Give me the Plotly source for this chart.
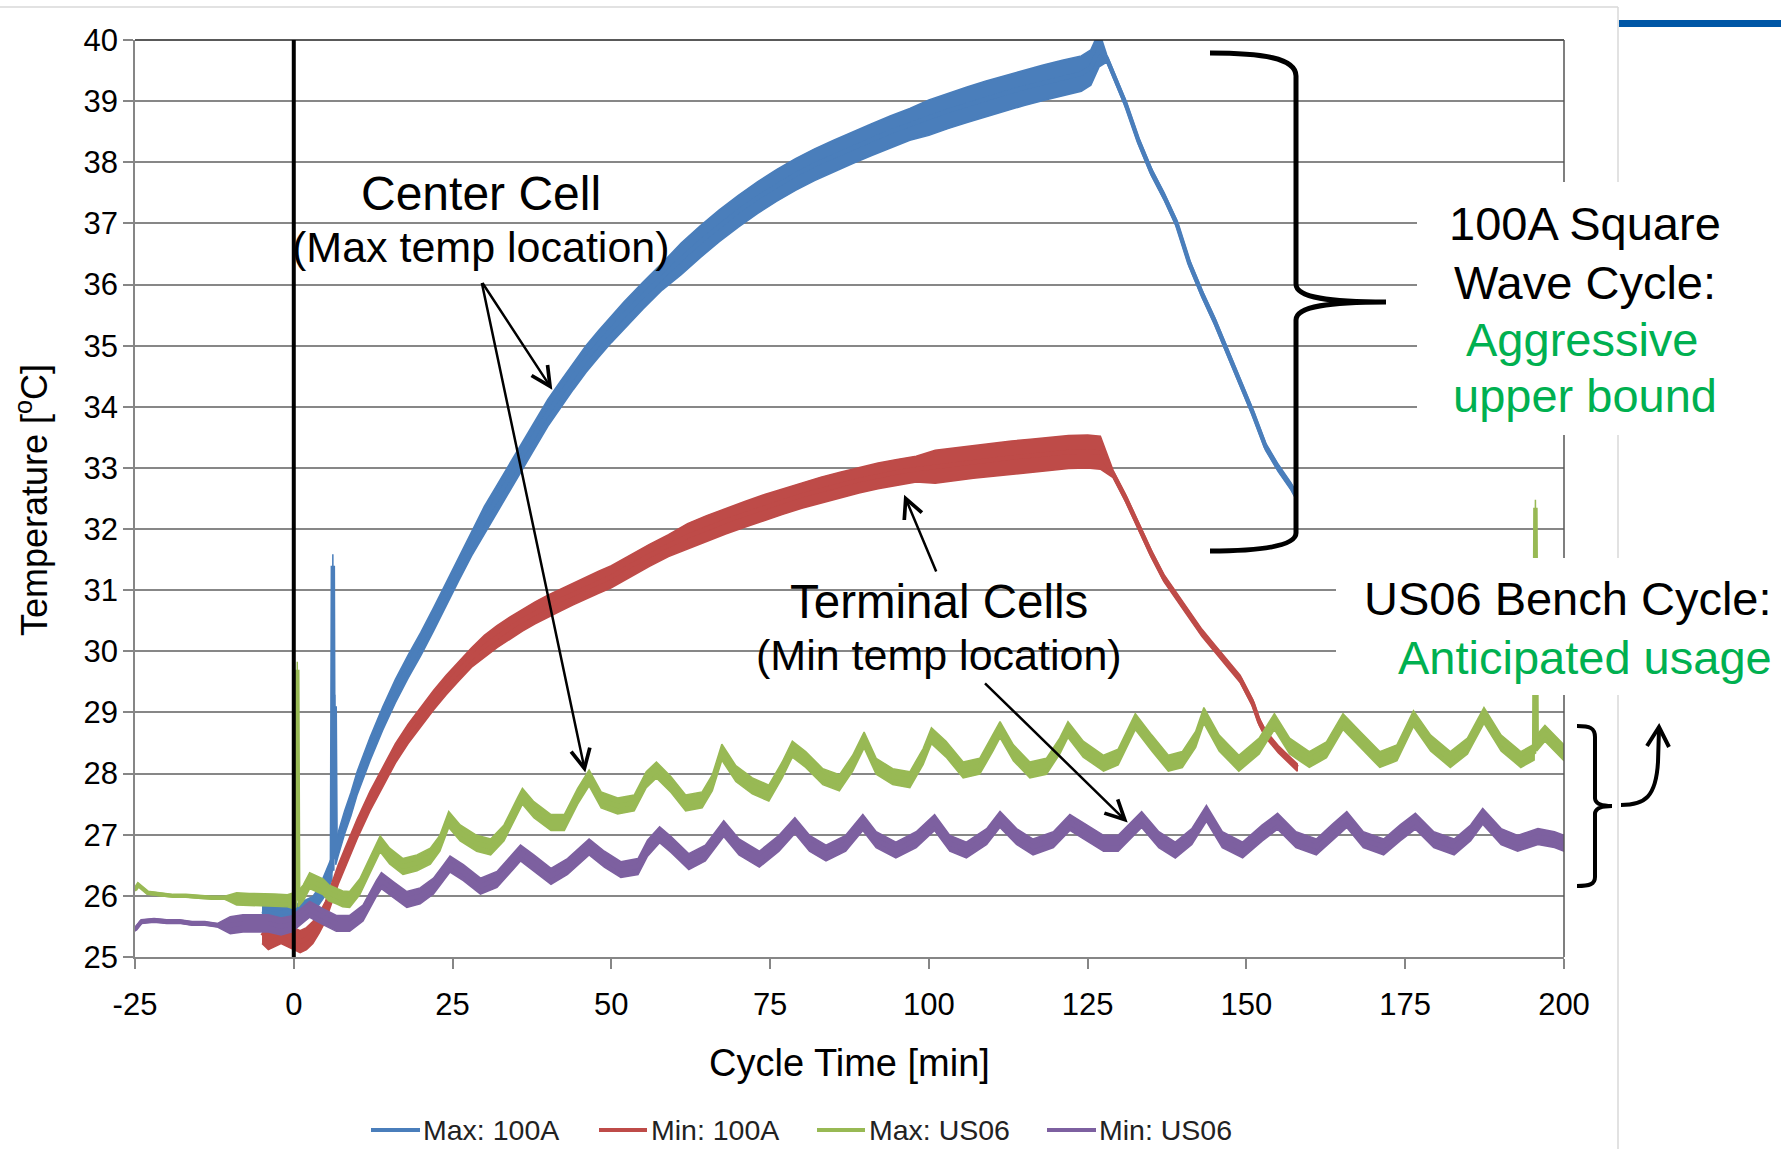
import plotly.graph_objects as go

# ---------------- data ----------------
t_max100 = [-5, -3, -1, 0, 1, 2, 3, 4, 5, 6.0, 6.15, 6.3, 6.45, 6.6, 6.75, 7, 8, 9, 10, 12, 14, 16, 18, 20,
            22, 24, 26, 28, 30, 32, 34, 36, 38, 40, 42, 44, 46, 48, 50, 52, 55, 58, 61, 64, 67, 70, 73, 76,
            79, 82, 85, 88, 91, 94, 97, 100, 103, 106, 109, 112, 115, 118, 121, 124, 125.5, 126.8, 128, 129,
            131, 133, 135, 137, 139, 141, 143, 145, 147, 149, 151, 153, 155, 157, 157.8]
v_max100 = [25.75, 25.7, 25.75, 25.7, 25.75, 25.8, 25.85, 26.0, 26.2, 26.45, 31.4, 26.6, 29.1, 26.7, 26.75,
            26.85, 27.2, 27.5, 27.85, 28.4, 28.9, 29.35, 29.75, 30.12, 30.52, 30.93, 31.35, 31.75, 32.15,
            32.5, 32.85, 33.2, 33.55, 33.9, 34.2, 34.5, 34.78, 35.03, 35.27, 35.5, 35.82, 36.13, 36.42,
            36.7, 36.96, 37.2, 37.42, 37.62, 37.8, 37.96, 38.1, 38.24, 38.37, 38.5, 38.62, 38.73, 38.84,
            38.94, 39.04, 39.13, 39.22, 39.3, 39.38, 39.45, 39.55, 39.85, 39.7, 39.45, 38.95, 38.35, 37.85,
            37.45, 37.0, 36.35, 35.85, 35.4, 34.9, 34.4, 33.9, 33.35, 33.0, 32.7, 32.55]
noise_max100_edges = [-6, 5, 30, 60, 100, 127.5, 200]
noise_max100 = [0.14, 0.19, 0.22, 0.26, 0.29, 0.06]

t_min100 = [-5, -4, -3, -2, -1, 0, 1, 2, 3, 4, 5, 6, 7, 8, 9, 10, 12, 14, 16, 18, 20, 22, 24, 26, 28, 30,
            32, 34, 36, 38, 40, 42, 44, 46, 48, 50, 53, 56, 59, 62, 65, 68, 71, 74, 77, 80, 83, 86, 89, 92,
            95, 98, 101, 104, 107, 110, 113, 116, 119, 122, 125, 127, 129, 131, 133, 135, 137, 139, 141,
            143, 145, 147, 149, 151, 152, 153, 155, 157, 158]
v_min100 = [25.4, 25.3, 25.35, 25.4, 25.35, 25.3, 25.25, 25.3, 25.4, 25.55, 25.75, 26.05, 26.35, 26.6,
            26.85, 27.1, 27.55, 27.95, 28.33, 28.65, 28.93, 29.2, 29.45, 29.68, 29.9, 30.08, 30.24, 30.38,
            30.51, 30.63, 30.74, 30.84, 30.94, 31.04, 31.13, 31.22, 31.4, 31.57, 31.73, 31.88, 32.01, 32.13,
            32.24, 32.35, 32.45, 32.55, 32.64, 32.72, 32.8, 32.87, 32.93, 32.98, 33.02, 33.06, 33.1, 33.13,
            33.17, 33.2, 33.23, 33.26, 33.27, 33.25, 32.9, 32.5, 32.05, 31.6, 31.2, 30.9, 30.6, 30.3,
            30.05, 29.8, 29.55, 29.15, 28.85, 28.65, 28.4, 28.2, 28.1]
noise_min100_edges = [-6, 4, 30, 60, 100, 127.5, 200]
noise_min100 = [0.18, 0.16, 0.18, 0.21, 0.27, 0.06]

t_maxus06 = [-25, -24.5, -23, -21, -19, -17, -15, -13, -11, -9, -7, -5, -3, -1, 0, 0.4, 0.55, 0.7, 1.5,
             2.5, 3.5, 4.6, 5.5, 6.7, 7.7, 8.8, 10.4, 12, 13.6, 15.1, 17.2, 19.4, 21.5, 23, 24.4, 26.2,
             28.8, 31, 33.1, 35.2, 36, 37.8, 40.5, 42.6, 44.7, 46.5, 48.4, 51, 53.6, 55.5, 57.1, 59.4,
             61.7, 64.3, 65.9, 67.4, 69.6, 72.2, 74.8, 76.9, 78.5, 80.6, 83.3, 85.9, 88, 89.8, 91.7, 94.3,
             97, 99.1, 100.4, 102.7, 105.4, 108, 110.1, 111.2, 113.3, 115.9, 118.5, 120.6, 121.9, 124.3,
             127.5, 129.8, 132.5, 135.1, 137.7, 139.9, 142, 143.3, 145.7, 148.8, 152, 154.4, 156.8, 159.9,
             162.6, 165.2, 167.9, 171, 173.7, 176.3, 179, 182.1, 184.8, 187.4, 190.1, 193.2, 195.3, 195.5,
             195.7, 197, 200]
v_maxus06 = [26.1, 26.18, 26.05, 26.02, 26.0, 26.0, 25.98, 25.97, 25.97, 25.95, 25.94, 25.94, 25.93, 25.92,
             25.92, 25.95, 29.7, 25.95, 26.05, 26.25, 26.2, 26.15, 26.05, 26.0, 25.95, 25.94, 26.15, 26.5,
             26.85, 26.65, 26.48, 26.54, 26.65, 26.86, 27.25, 27.03, 26.86, 26.8, 27.03, 27.47, 27.63,
             27.41, 27.2, 27.2, 27.63, 27.93, 27.57, 27.47, 27.52, 27.9, 28.06, 27.82, 27.52, 27.57, 27.85,
             28.35, 28.0, 27.8, 27.68, 28.06, 28.4, 28.23, 27.95, 27.85, 28.17, 28.55, 28.12, 27.95, 27.9,
             28.28, 28.62, 28.4, 28.06, 28.12, 28.5, 28.72, 28.34, 28.06, 28.12, 28.45, 28.72, 28.4, 28.17,
             28.27, 28.85, 28.5, 28.17, 28.23, 28.56, 28.95, 28.5, 28.17, 28.45, 28.85, 28.45, 28.23,
             28.39, 28.85, 28.56, 28.23, 28.34, 28.9, 28.5, 28.23, 28.45, 28.95, 28.5, 28.23, 28.35, 32.35,
             28.5, 28.66, 28.34]
noise_maxus06_edges = [-26, -10, 0, 201]
noise_maxus06 = [0.02, 0.1, 0.13]

t_minus06 = [-25, -24, -22, -20, -18, -16, -14, -12, -10, -8, -6, -4, -2, 0, 0.4, 2.5, 4.6, 6.7, 8.8, 10.9,
             13, 13.8, 15.7, 17.8, 19.9, 22, 23.6, 24.6, 26.7, 29.4, 32, 34.7, 35.7, 37.8, 40.5, 43.1, 45.2,
             46.5, 48.9, 51.5, 54.2, 55.7, 57.6, 59.4, 62.2, 64.8, 67.7, 70.1, 73.3, 76.4, 78.9, 81.2, 83.8,
             86.9, 89.6, 91.7, 94.8, 98, 100.9, 103.3, 105.9, 109.1, 111.2, 113.8, 116.4, 119.6, 122.2,
             124.8, 127.5, 129.8, 131.4, 133.5, 136.2, 138.8, 141.4, 143.7, 146.2, 149.4, 152.5, 154.9,
             157.8, 161, 163.6, 165.8, 168.4, 171.6, 174.2, 176.6, 179.5, 182.7, 185.3, 187.2, 190.1, 192.7,
             195.9, 198.5, 200]
v_minus06 = [25.45, 25.58, 25.6, 25.58, 25.58, 25.55, 25.55, 25.52, 25.52, 25.55, 25.55, 25.55, 25.5, 25.55,
             25.6, 25.78, 25.66, 25.55, 25.55, 25.72, 26.12, 26.25, 26.1, 25.94, 26.0, 26.16, 26.38, 26.52,
             26.38, 26.16, 26.27, 26.58, 26.7, 26.54, 26.32, 26.48, 26.68, 26.8, 26.6, 26.43, 26.48, 26.78,
             27.0, 26.84, 26.56, 26.7, 27.1, 26.8, 26.6, 26.86, 27.15, 26.86, 26.7, 26.86, 27.2, 26.92,
             26.75, 26.92, 27.2, 26.86, 26.75, 26.97, 27.25, 26.97, 26.8, 26.92, 27.2, 27.03, 26.86, 26.86,
             27.03, 27.25, 26.92, 26.75, 26.97, 27.35, 26.92, 26.75, 27.03, 27.22, 26.92, 26.8, 27.05,
             27.25, 26.92, 26.8, 27.03, 27.22, 26.92, 26.8, 27.03, 27.3, 26.97, 26.86, 26.97, 26.92, 26.86]
noise_minus06_edges = [-26, -10, 0, 201]
noise_minus06 = [0.03, 0.14, 0.13]

series_names = ["Max: 100A", "Min: 100A", "Max: US06", "Min: US06"]
x_ticks = [-25, 0, 25, 50, 75, 100, 125, 150, 175, 200]
x_tick_labels = ["-25", "0", "25", "50", "75", "100", "125", "150", "175", "200"]
y_ticks = list(range(25, 41))

# ---------------- helpers ----------------
W, H = 1781, 1149
ML, MR, MT, MB = 135, 217, 40, 192
PW, PH = W - ML - MR, H - MT - MB
FONT = "Liberation Sans, Arial, sans-serif"


def px(x):
    return (x - ML) / PW


def py(y):
    return (H - MB - y) / PH


def path(d_pixels):
    """Convert a path given in page pixels ('x,y' pairs) into paper coordinates."""
    out = []
    for tok in d_pixels.split():
        if tok[0].isalpha():
            out.append(tok[0])
            tok = tok[1:]
            if not tok:
                continue
        x, y = tok.split(",")
        out.append(f"{px(float(x)):.5f},{py(float(y)):.5f}")
    return " ".join(out)


def halfwidths(t, edges, widths):
    res = []
    for v in t:
        w = widths[-1]
        for i in range(len(widths)):
            if v < edges[i + 1]:
                w = widths[i]
                break
        res.append(w)
    return res


colors = ["#4A7EBB", "#BE4B48", "#98B954", "#7D60A0"]
data = [
    (t_max100, v_max100, noise_max100_edges, noise_max100),
    (t_min100, v_min100, noise_min100_edges, noise_min100),
    (t_maxus06, v_maxus06, noise_maxus06_edges, noise_maxus06),
    (t_minus06, v_minus06, noise_minus06_edges, noise_minus06),
]

fig = go.Figure()
for (t, v, ed, wd), name, c in zip(data, series_names, colors):
    n = halfwidths(t, ed, wd)
    hi = [a + b for a, b in zip(v, n)]
    lo = [a - b for a, b in zip(v, n)]
    fig.add_trace(go.Scatter(x=list(t) + list(t)[::-1], y=hi + lo[::-1], fill="toself", fillcolor=c,
                             mode="lines", line=dict(width=1.5, color=c), hoverinfo="skip",
                             showlegend=False))
    fig.add_trace(go.Scatter(x=t, y=v, mode="lines", name=name, showlegend=False,
                             line=dict(color=c, width=4.5)))

shapes = []
# slide decorations
shapes.append(dict(type="line", xref="paper", yref="paper", x0=px(0), x1=px(1618), y0=py(7), y1=py(7),
                   line=dict(color="#D9D9D9", width=1.5)))
shapes.append(dict(type="line", xref="paper", yref="paper", x0=px(1618), x1=px(1618), y0=py(7), y1=py(1149),
                   line=dict(color="#D9D9D9", width=1.5)))
shapes.append(dict(type="rect", xref="paper", yref="paper", x0=px(1619), x1=px(1781), y0=py(20), y1=py(27),
                   fillcolor="#0057A6", line=dict(width=0)))
# plot frame (top / right)
shapes.append(dict(type="line", xref="paper", yref="paper", x0=0, x1=1, y0=1, y1=1,
                   line=dict(color="#222222", width=1.5), layer="above"))
shapes.append(dict(type="line", xref="paper", yref="paper", x0=1, x1=1, y0=0, y1=1,
                   line=dict(color="#555555", width=1.5), layer="above"))
# black line at cycle start
shapes.append(dict(type="line", xref="x", yref="y", x0=0, x1=0, y0=25, y1=40.08,
                   line=dict(color="black", width=4), layer="above"))
# white text boxes
shapes.append(dict(type="rect", xref="paper", yref="paper", x0=px(1417), x1=px(1781), y0=py(435), y1=py(182),
                   fillcolor="white", line=dict(width=0), layer="above"))
shapes.append(dict(type="rect", xref="paper", yref="paper", x0=px(1336), x1=px(1781), y0=py(695), y1=py(558),
                   fillcolor="white", line=dict(width=0), layer="above"))
# big brace
shapes.append(dict(type="path", xref="paper", yref="paper", layer="above",
                   path=path("M1210,53 C1262,53 1296,58 1296,76 L1296,284 C1296,298 1330,302 1386,302 "
                             "C1330,302 1296,306 1296,320 L1296,533 C1296,546 1262,551 1210,551"),
                   line=dict(color="black", width=5)))
# small brace
shapes.append(dict(type="path", xref="paper", yref="paper", layer="above",
                   path=path("M1577,726 C1590,726 1595,728 1595,737 L1595,798 C1595,803 1600,806 1612,806 "
                             "C1600,806 1595,809 1595,814 L1595,877 C1595,884 1590,886 1577,886"),
                   line=dict(color="black", width=4)))
# curved arrow
shapes.append(dict(type="path", xref="paper", yref="paper", layer="above",
                   path=path("M1621,805 C1645,805 1656,797 1658,762 L1659,729"),
                   line=dict(color="black", width=4)))
shapes.append(dict(type="path", xref="paper", yref="paper", layer="above",
                   path=path("M1647,746 L1659,727 L1669,747"),
                   line=dict(color="black", width=4)))

# legend (drawn manually so it sits exactly like the reference)
legend_sym_x = [(371, 420), (599, 647), (817, 865), (1047, 1096)]
legend_txt_x = [423, 651, 869, 1099]
LEG_Y = 1130
for (x0, x1), c in zip(legend_sym_x, colors):
    shapes.append(dict(type="line", xref="paper", yref="paper", x0=px(x0), x1=px(x1), y0=py(LEG_Y),
                       y1=py(LEG_Y), line=dict(color=c, width=4)))

annotations = []


def label(text, x, y, size, color="black", xanchor="center"):
    annotations.append(dict(text=text, xref="paper", yref="paper", x=px(x), y=py(y), xanchor=xanchor,
                            yanchor="middle", showarrow=False, borderpad=0, borderwidth=0,
                            font=dict(size=size, color=color, family=FONT)))


for name, xt in zip(series_names, legend_txt_x):
    label(name, xt, LEG_Y, 28.5, "#222222", "left")

GREEN = "#00B050"
label("Center Cell", 481, 194, 48)
label("(Max temp location)", 481, 247, 43)
label("Terminal Cells", 939, 601, 47.5)
label("(Min temp location)", 939, 655, 43)
label("100A Square", 1585, 224, 47)
label("Wave Cycle:", 1585, 282, 47)
label("Aggressive", 1583, 339, 47, GREEN)
label("upper bound", 1585, 395, 47, GREEN)
label("US06 Bench Cycle:", 1568, 599, 47)
label("Anticipated usage", 1585, 657, 47, GREEN)
# axis titles
annotations.append(dict(text="Cycle Time [min]", xref="paper", yref="paper", x=px(849.5), y=py(1063),
                        xanchor="center", yanchor="middle", showarrow=False, font=dict(size=38, family=FONT)))
annotations.append(dict(text="Temperature [<sup>o</sup>C]", xref="paper", yref="paper", x=px(32), y=py(500),
                        xanchor="center", yanchor="middle", textangle=-90, showarrow=False,
                        font=dict(size=36, family=FONT)))

# pointer arrows (tail -> head in data coordinates)
arrows = [((29.56, 36.05), (40.7, 34.28)), ((29.56, 36.05), (45.9, 28.02)),
          ((101.25, 31.28), (96.1, 32.56)), ((108.6, 29.5), (131.3, 27.2))]
for (tx, ty), (hx, hy) in arrows:
    annotations.append(dict(x=hx, y=hy, ax=tx, ay=ty, xref="x", yref="y", axref="x", ayref="y", text="",
                            showarrow=True, arrowhead=5, arrowsize=1.5, arrowwidth=2.5, arrowcolor="black",
                            standoff=0, startstandoff=0))

fig.update_layout(
    width=W, height=H, autosize=False,
    margin=dict(l=ML, r=MR, t=MT, b=MB, pad=0),
    paper_bgcolor="white", plot_bgcolor="white",
    font=dict(family=FONT, color="black"),
    xaxis=dict(range=[-25, 200], tickvals=x_ticks, ticktext=x_tick_labels, ticks="outside", ticklen=10,
               tickcolor="#868686", tickwidth=1.5, showline=True, linecolor="#868686", linewidth=1.5,
               showgrid=False, zeroline=False, automargin=False,
               tickfont=dict(size=31, family=FONT, color="black"), ticklabelstandoff=9),
    yaxis=dict(range=[25, 40], tickvals=y_ticks, ticks="outside", ticklen=10, tickcolor="#868686",
               tickwidth=1.5, showline=True, linecolor="#868686", linewidth=1.5, showgrid=True,
               gridcolor="#878787", gridwidth=1.5, zeroline=False, automargin=False,
               tickfont=dict(size=31, family=FONT, color="black"), ticklabelstandoff=-1),
    showlegend=False,
    shapes=shapes,
    annotations=annotations,
)

fig.write_html("out.html")
